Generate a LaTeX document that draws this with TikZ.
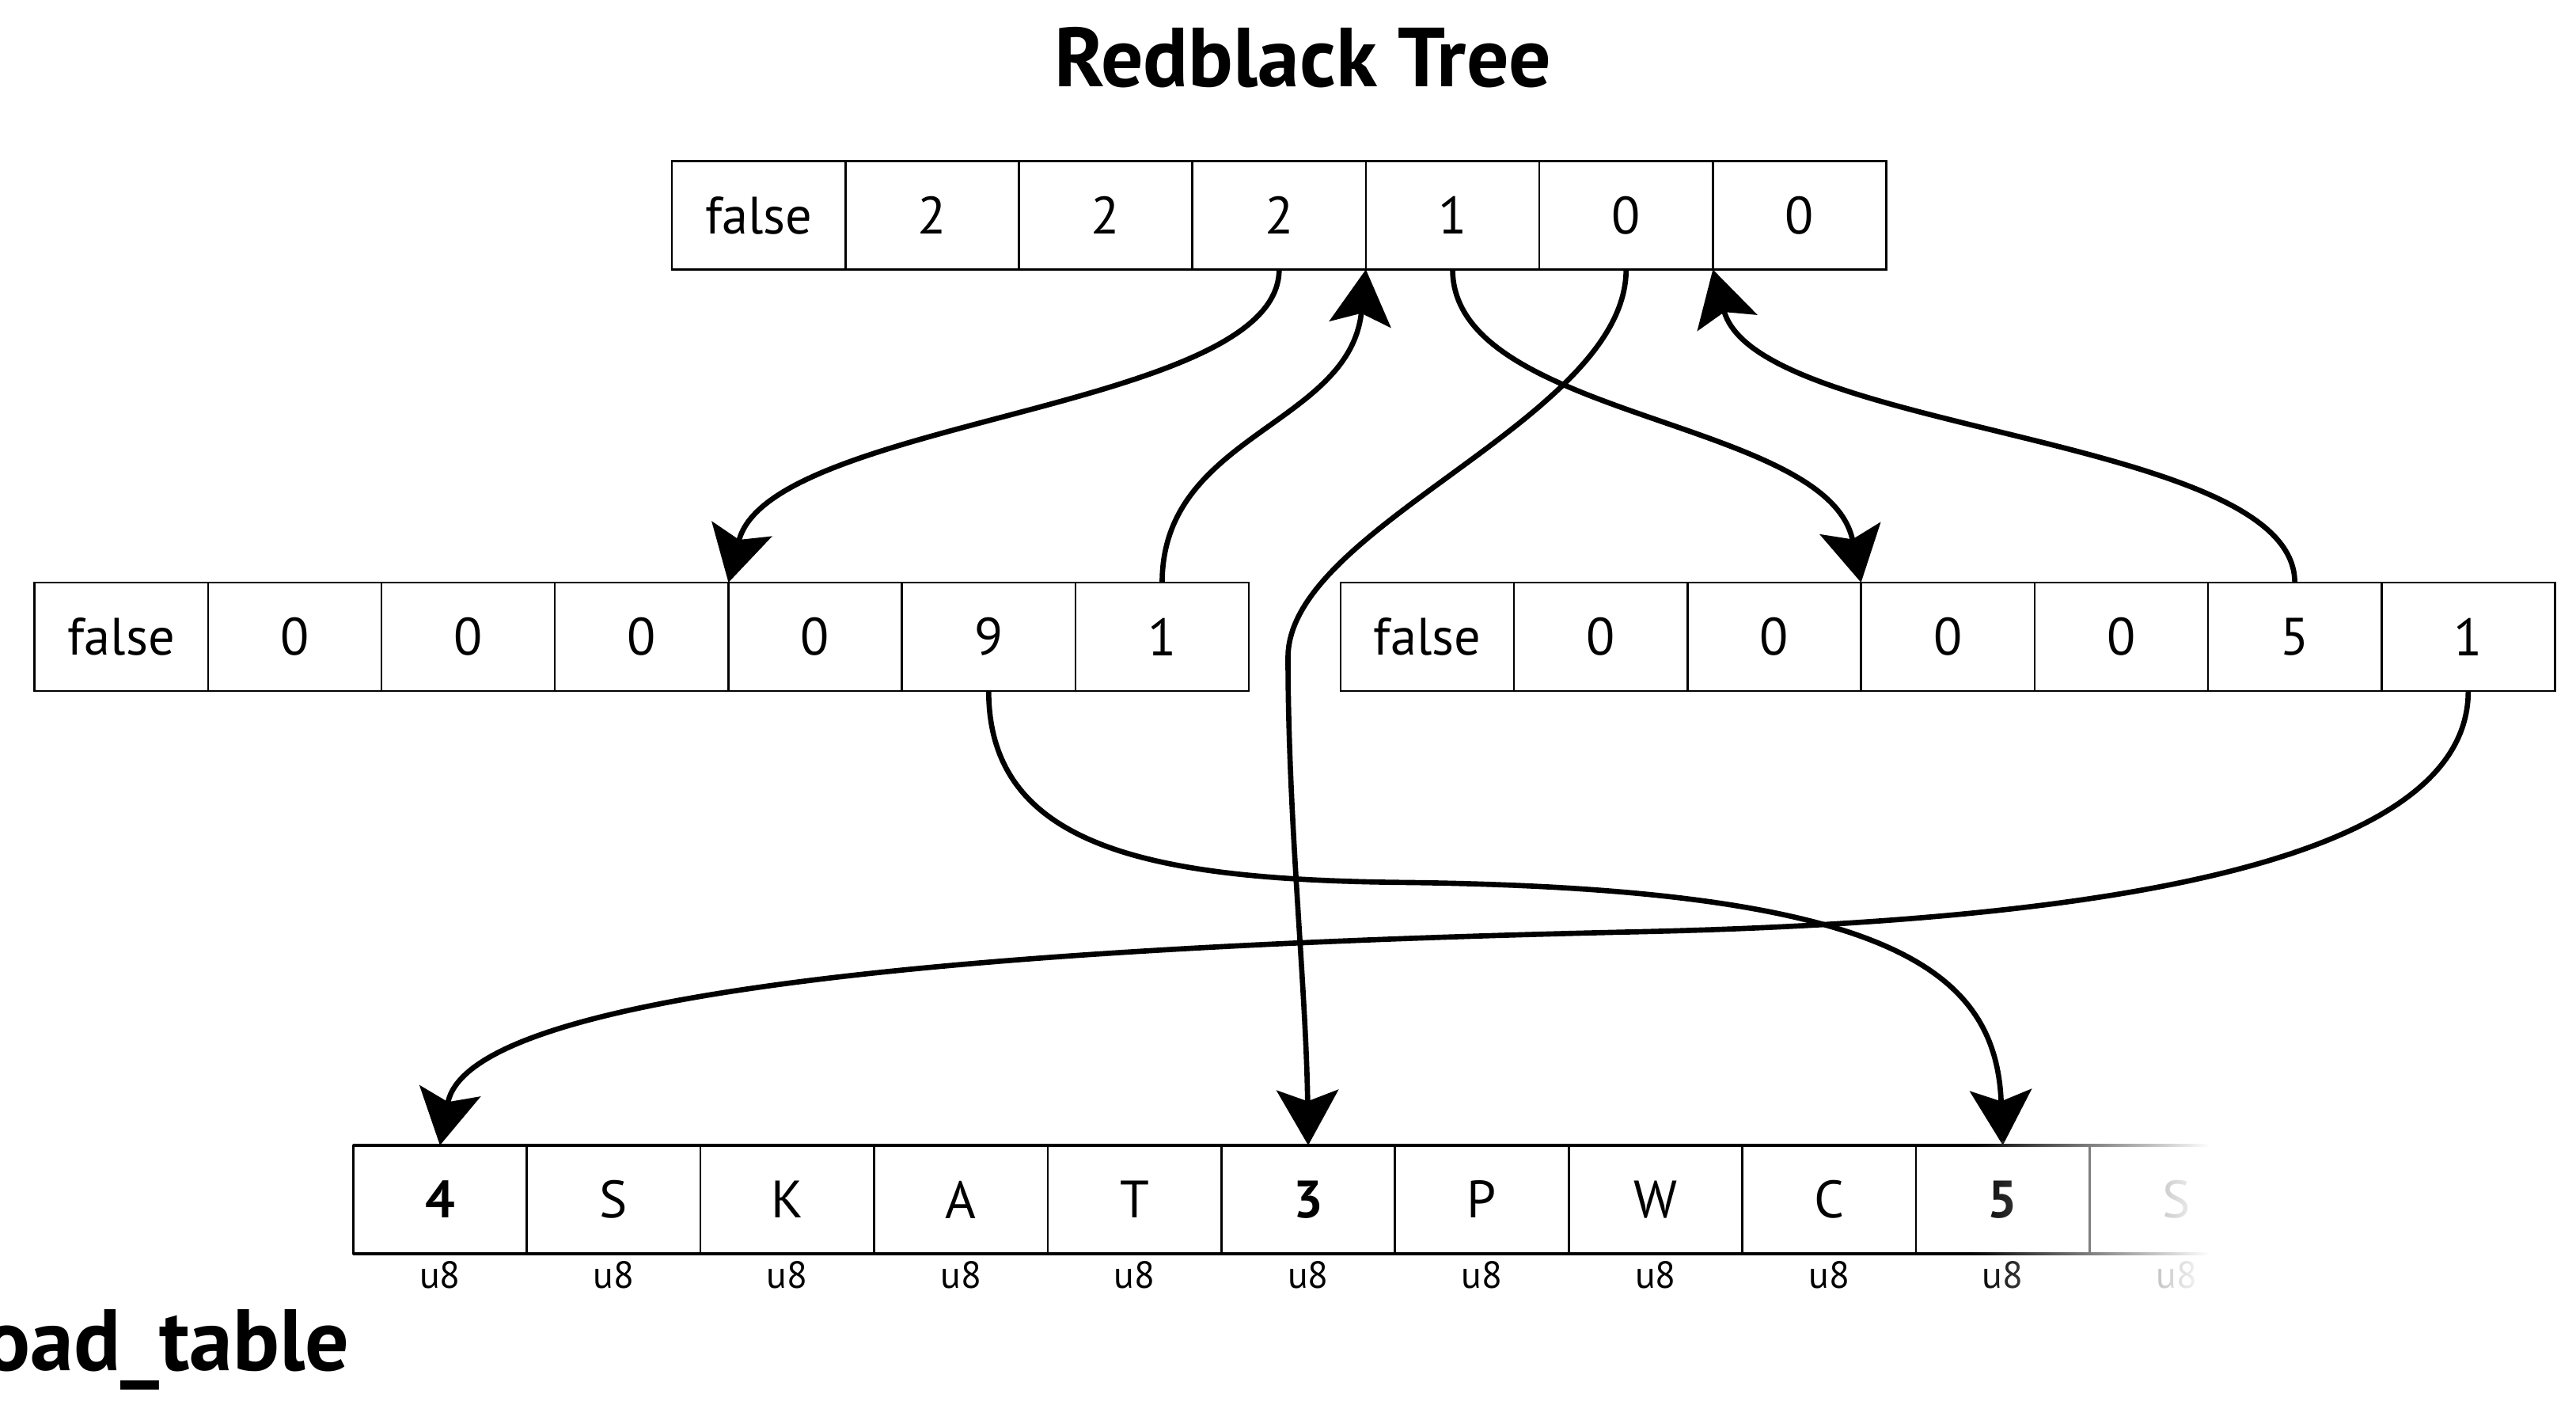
\documentclass[tikz,border=0pt]{standalone}
\usepackage{fontspec}
\setmainfont{PT Sans}
\usetikzlibrary{arrows.meta,positioning,fadings}
\tikzfading[name=fade in, left color=transparent!100, right color=transparent!0]
\tikzset{
	cell/.style={draw, line width=0.6pt, minimum width=52.8pt, minimum height=33pt, inner sep=0pt, outer sep=0pt, font=\fontsize{16}{19}\selectfont},
	typ/.style={inner sep=0pt, font=\fontsize{11.5}{13}\selectfont},
	heading/.style={inner sep=0pt, font=\bfseries\fontsize{25.5}{30}\selectfont},
	link/.style={line width=1.6pt, -{Stealth[length=16.8pt,width=18.8pt,inset=3.4pt]}},
}
\begin{document}
\begin{tikzpicture}[x=0.5pt,y=-0.5pt]
	\useasboundingbox (0,0) rectangle (1568,864);
	\node[heading] (title) at (793,35) {Redblack Tree};
	\foreach \v [count=\i] in {false,2,2,2,1,0,0}
		\node[cell] (t\i) at ({356.2+105.6*\i},131) {\v};
	\foreach \v [count=\i] in {false,0,0,0,0,9,1}
		\node[cell] (l\i) at ({-31.8+105.6*\i},387.5) {\v};
	\foreach \v [count=\i] in {false,0,0,0,0,5,1}
		\node[cell] (r\i) at ({763.2+105.6*\i},387.5) {\v};
	\foreach \v [count=\i] in {\textbf{4},S,K,A,T,\textbf{3},P,W,C,\textbf{5},S}
		\node[cell] (b\i) at ({162.1+105.7*\i},730) {\v};
	\foreach \i in {1,...,11}
		\node[typ, below=2pt of b\i] (u\i) {u8};
	\draw[line width=0.9pt] (b1.north west) -- (b11.north east) (b1.south west) -- (b11.south east);
	\node[heading, font=\bfseries\fontsize{26.5}{30}\selectfont, anchor=base east] (name) at (213,834) {oad\_table};
	% links
	\draw[link] (t4.south) .. controls +(0,86) and +(25,-100) .. (l5.north west);
	\draw[link] (l7.north) .. controls +(0,-90) and +(-10,95) .. (t5.south west);
	\draw[link] (t5.south) .. controls +(0,91) and +(-20,-100) .. (r4.north west);
	\draw[link] (t6.south) .. controls +(0,91) and (784,320) .. (784,400) .. controls (784,500) and (795,600) .. (b6.north);
	\draw[link] (r6.north) .. controls +(0,-90) and +(27,100) .. (t7.south west);
	\draw[link] (l6.south) .. controls +(0,95) and (700,535) .. (850,537) .. controls (1150,540) and (1215,590) .. (b10.north);
	\draw[link] (r7.south) .. controls +(0,100) and (1300,560) .. (1000,567) .. controls (500,578) and (283,615) .. (b1.north);
	% fade out
	\fill[white, path fading=fade in] (1200,694) rectangle (1345,800);
	\fill[white] (1344,680) rectangle (1420,800);
\end{tikzpicture}
\end{document}
